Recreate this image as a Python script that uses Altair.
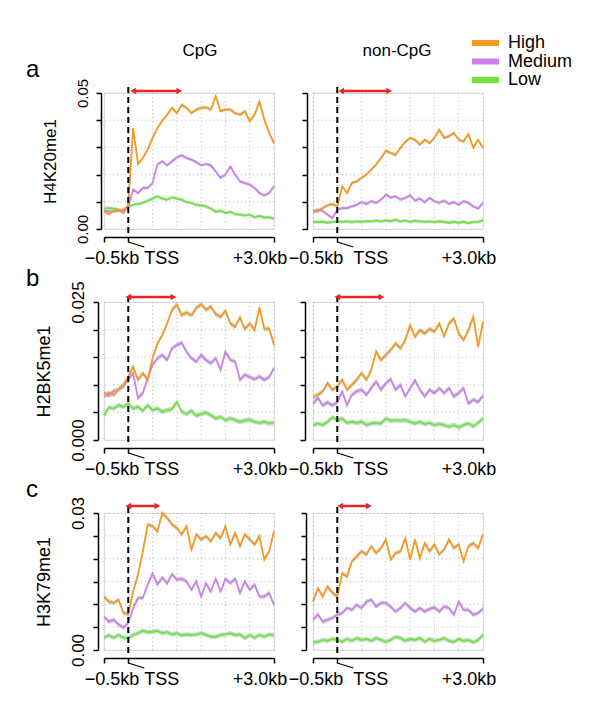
import altair as alt
import pandas as pd

positions = [-0.5, -0.4, -0.3, -0.2, -0.1, 0.0, 0.1, 0.2, 0.3, 0.4, 0.5, 0.6,
             0.7, 0.8, 0.9, 1.0, 1.1, 1.2, 1.3, 1.4, 1.5, 1.6, 1.7, 1.8,
             1.9, 2.0, 2.1, 2.2, 2.3, 2.4, 2.5, 2.6, 2.7, 2.8, 2.9, 3.0]

levels = ["High", "Medium", "Low"]
level_colors = ["#F7981F", "#D080EC", "#6DE83A"]
column_titles = ["CpG", "non-CpG"]
row_letters = ["a", "b", "c"]
row_marks = ["H4K20me1", "H2BK5me1", "H3K79me1"]
xtick_values = [-0.5, 0.0, 3.0]
xtick_labels = ["\u22120.5kb", "TSS", "+3.0kb"]
xgrid_values = [-0.5, 0.0, 0.5, 1.0, 1.5, 2.0, 2.5, 3.0]
yticks_a = [0.0, 0.01, 0.02, 0.03, 0.04, 0.05]
yticks_b = [0.0, 0.005, 0.01, 0.015, 0.02, 0.025]
yticks_c = [0.0, 0.005, 0.01, 0.015, 0.02, 0.025, 0.03]

# ---- row a : H4K20me1 ----
a_cpg_high = [0.0065, 0.0055, 0.0067, 0.0071, 0.0059, 0.0090, 0.0371, 0.0239, 0.0261, 0.0292, 0.0335, 0.0371,
              0.0398, 0.0420, 0.0445, 0.0426, 0.0457, 0.0445, 0.0426, 0.0439, 0.0445, 0.0447, 0.0439, 0.0488,
              0.0433, 0.0439, 0.0439, 0.0426, 0.0420, 0.0433, 0.0396, 0.0420, 0.0469, 0.0402, 0.0353, 0.0316]
a_cpg_med = [0.0067, 0.0065, 0.0065, 0.0067, 0.0071, 0.0083, 0.0145, 0.0132, 0.0151, 0.0151, 0.0169, 0.0237,
             0.0249, 0.0234, 0.0249, 0.0263, 0.0271, 0.0261, 0.0255, 0.0246, 0.0234, 0.0239, 0.0234, 0.0212,
             0.0188, 0.0200, 0.0230, 0.0200, 0.0175, 0.0169, 0.0163, 0.0151, 0.0132, 0.0124, 0.0132, 0.0157]
a_cpg_low = [0.0075, 0.0077, 0.0075, 0.0071, 0.0065, 0.0083, 0.0089, 0.0092, 0.0096, 0.0104, 0.0112, 0.0120,
             0.0112, 0.0108, 0.0116, 0.0112, 0.0108, 0.0099, 0.0096, 0.0089, 0.0087, 0.0083, 0.0075, 0.0063,
             0.0067, 0.0059, 0.0063, 0.0055, 0.0053, 0.0050, 0.0053, 0.0043, 0.0048, 0.0043, 0.0043, 0.0038]
a_non_high = [0.0063, 0.0065, 0.0077, 0.0087, 0.0092, 0.0083, 0.0157, 0.0132, 0.0169, 0.0175, 0.0188, 0.0200,
              0.0218, 0.0237, 0.0261, 0.0288, 0.0279, 0.0273, 0.0298, 0.0320, 0.0335, 0.0328, 0.0310, 0.0328,
              0.0316, 0.0335, 0.0365, 0.0335, 0.0341, 0.0353, 0.0328, 0.0322, 0.0349, 0.0298, 0.0328, 0.0298]
a_non_med = [0.0065, 0.0071, 0.0067, 0.0053, 0.0040, 0.0071, 0.0077, 0.0077, 0.0083, 0.0089, 0.0099, 0.0092,
             0.0102, 0.0096, 0.0108, 0.0126, 0.0116, 0.0120, 0.0108, 0.0114, 0.0124, 0.0104, 0.0112, 0.0099,
             0.0114, 0.0102, 0.0096, 0.0104, 0.0092, 0.0099, 0.0089, 0.0102, 0.0096, 0.0083, 0.0075, 0.0096]
a_non_low = [0.0026, 0.0025, 0.0026, 0.0023, 0.0026, 0.0028, 0.0026, 0.0028, 0.0025, 0.0028, 0.0026, 0.0029,
             0.0028, 0.0031, 0.0028, 0.0032, 0.0028, 0.0034, 0.0028, 0.0031, 0.0026, 0.0031, 0.0028, 0.0026,
             0.0028, 0.0025, 0.0028, 0.0026, 0.0023, 0.0026, 0.0023, 0.0026, 0.0022, 0.0025, 0.0026, 0.0032]

# ---- row b : H2BK5me1 ----
b_cpg_high = [0.0079, 0.0085, 0.0082, 0.0092, 0.0100, 0.0114, 0.0133, 0.0109, 0.0121, 0.0109, 0.0148, 0.0175,
              0.0190, 0.0211, 0.0236, 0.0245, 0.0226, 0.0231, 0.0226, 0.0239, 0.0246, 0.0236, 0.0242, 0.0228,
              0.0223, 0.0234, 0.0211, 0.0205, 0.0222, 0.0201, 0.0211, 0.0199, 0.0240, 0.0201, 0.0202, 0.0172]
b_cpg_med = [0.0086, 0.0080, 0.0089, 0.0091, 0.0097, 0.0110, 0.0121, 0.0076, 0.0085, 0.0112, 0.0136, 0.0148,
             0.0154, 0.0145, 0.0166, 0.0172, 0.0176, 0.0160, 0.0148, 0.0142, 0.0154, 0.0145, 0.0139, 0.0148,
             0.0127, 0.0160, 0.0145, 0.0142, 0.0109, 0.0118, 0.0114, 0.0110, 0.0115, 0.0109, 0.0114, 0.0130]
b_cpg_low = [0.0044, 0.0059, 0.0057, 0.0063, 0.0060, 0.0066, 0.0057, 0.0060, 0.0053, 0.0063, 0.0054, 0.0057,
             0.0051, 0.0054, 0.0056, 0.0069, 0.0051, 0.0047, 0.0053, 0.0044, 0.0047, 0.0050, 0.0045, 0.0039,
             0.0042, 0.0036, 0.0039, 0.0036, 0.0033, 0.0035, 0.0037, 0.0033, 0.0031, 0.0033, 0.0030, 0.0031]
b_non_high = [0.0077, 0.0082, 0.0088, 0.0103, 0.0091, 0.0097, 0.0109, 0.0091, 0.0100, 0.0109, 0.0121, 0.0109,
              0.0127, 0.0160, 0.0145, 0.0154, 0.0163, 0.0175, 0.0166, 0.0181, 0.0208, 0.0187, 0.0199, 0.0193,
              0.0201, 0.0196, 0.0211, 0.0188, 0.0211, 0.0220, 0.0193, 0.0181, 0.0199, 0.0223, 0.0169, 0.0214]
b_non_med = [0.0066, 0.0076, 0.0063, 0.0068, 0.0063, 0.0068, 0.0088, 0.0063, 0.0082, 0.0088, 0.0091, 0.0082,
             0.0094, 0.0106, 0.0091, 0.0103, 0.0110, 0.0091, 0.0100, 0.0079, 0.0094, 0.0108, 0.0091, 0.0079,
             0.0091, 0.0085, 0.0094, 0.0085, 0.0094, 0.0079, 0.0085, 0.0094, 0.0066, 0.0073, 0.0069, 0.0080]
b_non_low = [0.0027, 0.0030, 0.0027, 0.0033, 0.0041, 0.0036, 0.0039, 0.0031, 0.0033, 0.0031, 0.0033, 0.0027,
             0.0030, 0.0031, 0.0030, 0.0039, 0.0035, 0.0036, 0.0035, 0.0036, 0.0033, 0.0030, 0.0033, 0.0029,
             0.0031, 0.0027, 0.0029, 0.0027, 0.0024, 0.0027, 0.0023, 0.0027, 0.0030, 0.0025, 0.0031, 0.0039]

# ---- row c : H3K79me1 ----
c_cpg_high = [0.0117, 0.0106, 0.0103, 0.0110, 0.0081, 0.0078, 0.0128, 0.0165, 0.0216, 0.0275, 0.0271, 0.0260,
              0.0300, 0.0289, 0.0275, 0.0267, 0.0253, 0.0271, 0.0220, 0.0253, 0.0242, 0.0249, 0.0238, 0.0256,
              0.0245, 0.0271, 0.0231, 0.0256, 0.0227, 0.0253, 0.0242, 0.0231, 0.0249, 0.0198, 0.0216, 0.0260]
c_cpg_med = [0.0073, 0.0062, 0.0066, 0.0056, 0.0049, 0.0059, 0.0092, 0.0114, 0.0114, 0.0143, 0.0168, 0.0143,
             0.0159, 0.0146, 0.0166, 0.0154, 0.0156, 0.0150, 0.0132, 0.0150, 0.0117, 0.0146, 0.0128, 0.0156,
             0.0128, 0.0156, 0.0146, 0.0156, 0.0125, 0.0150, 0.0132, 0.0143, 0.0117, 0.0117, 0.0125, 0.0099]
c_cpg_low = [0.0027, 0.0032, 0.0027, 0.0033, 0.0027, 0.0026, 0.0033, 0.0037, 0.0042, 0.0039, 0.0040, 0.0042,
             0.0037, 0.0039, 0.0034, 0.0037, 0.0032, 0.0034, 0.0033, 0.0034, 0.0037, 0.0033, 0.0029, 0.0029,
             0.0033, 0.0034, 0.0037, 0.0033, 0.0034, 0.0026, 0.0033, 0.0027, 0.0033, 0.0029, 0.0034, 0.0032]
c_non_high = [0.0106, 0.0135, 0.0117, 0.0139, 0.0125, 0.0117, 0.0168, 0.0161, 0.0194, 0.0205, 0.0216, 0.0209,
              0.0227, 0.0212, 0.0223, 0.0242, 0.0198, 0.0212, 0.0216, 0.0245, 0.0198, 0.0242, 0.0201, 0.0234,
              0.0216, 0.0231, 0.0209, 0.0220, 0.0242, 0.0223, 0.0231, 0.0194, 0.0227, 0.0234, 0.0223, 0.0253]
c_non_med = [0.0066, 0.0078, 0.0062, 0.0066, 0.0070, 0.0077, 0.0081, 0.0092, 0.0088, 0.0099, 0.0092, 0.0106,
             0.0110, 0.0095, 0.0103, 0.0103, 0.0095, 0.0084, 0.0092, 0.0103, 0.0092, 0.0084, 0.0092, 0.0084,
             0.0090, 0.0093, 0.0084, 0.0095, 0.0092, 0.0077, 0.0106, 0.0088, 0.0088, 0.0077, 0.0081, 0.0090]
c_non_low = [0.0017, 0.0018, 0.0022, 0.0020, 0.0024, 0.0022, 0.0018, 0.0024, 0.0020, 0.0026, 0.0022, 0.0024,
             0.0020, 0.0026, 0.0022, 0.0018, 0.0022, 0.0029, 0.0026, 0.0020, 0.0024, 0.0022, 0.0026, 0.0018,
             0.0024, 0.0020, 0.0022, 0.0026, 0.0020, 0.0018, 0.0024, 0.0020, 0.0022, 0.0017, 0.0022, 0.0033]

# half-width of the grey confidence band, per row
band_half = [0.0006, 0.00045, 0.0005]
# red double arrows (start, end) in kb, per panel
arrows_cpg = [(0.10, 1.05), (0.0, 0.93), (0.0, 0.60)]
arrows_non = [(0.08, 1.07), (0.0, 0.91), (0.06, 0.65)]

FONT = "Liberation Sans"
W = 170
heights = [136, 138, 137]
ylabel_fmt = [".2f", ".3f", ".2f"]
ylabel_size = [15, 17, 17]
ytitle_size = [17, 18, 18]
arrow_y = [-2, -5, -7]
yaxis_offset = [[3, 6], [6, 8], [6, 7]]


def panel(row, col, high, med, low, yticks, arrow):
    H = heights[row]
    ytop = yticks[-1]
    xs = alt.Scale(domain=[-0.5, 3.0], nice=False, zero=False)
    ys = alt.Scale(domain=[yticks[0], ytop], nice=False, zero=False)
    xaxis = alt.Axis(values=xtick_values, labels=False, title=None, grid=False, offset=8,
                     tickSize=5, tickWidth=1.5, domainWidth=1.5, domainColor="black", tickColor="black")
    off = yaxis_offset[row][col]
    if col == 0:
        eps = ytop / 1000
        yaxis = alt.Axis(values=yticks, grid=False, offset=off, tickSize=5, tickWidth=1.5, domainWidth=1.5,
                         domainColor="black", tickColor="black",
                         labelExpr=f"datum.value < {eps} || datum.value > {ytop - eps} ? format(datum.value, '{ylabel_fmt[row]}') : ''",
                         labelAngle=270, labelAlign="center", labelBaseline="bottom", labelPadding=6,
                         labelFontSize=ylabel_size[row], labelOverlap=False, labelColor="black", labelFont=FONT,
                         title=row_marks[row], titleFontSize=ytitle_size[row], titleFontWeight="normal",
                         titleColor="black", titleFont=FONT, titlePadding=16)
    else:
        yaxis = alt.Axis(values=yticks, grid=False, offset=off, tickSize=5, tickWidth=1.5, domainWidth=1.5,
                         domainColor="black", tickColor="black", labels=False, title=None)

    def X(f):
        return alt.X(f"{f}:Q", scale=xs, axis=xaxis)

    def Y(f):
        return alt.Y(f"{f}:Q", scale=ys, axis=yaxis)

    rows = []
    for lvl, vals in zip(levels, [high, med, low]):
        for x, v in zip(positions, vals):
            rows.append({"x": x, "v": v, "lo": v - band_half[row], "hi": v + band_half[row], "level": lvl})
    df = pd.DataFrame(rows)

    layers = []
    gx = alt.Chart(pd.DataFrame({"g": xgrid_values})).mark_rule(
        stroke="#bdbdbd", strokeDash=[1, 3], strokeWidth=1).encode(x=X("g"))
    gy = alt.Chart(pd.DataFrame({"g": yticks})).mark_rule(
        stroke="#bdbdbd", strokeDash=[1, 3], strokeWidth=1).encode(y=Y("g"))
    layers += [gx, gy]

    band = alt.Chart(df).mark_area(color="#c5d0d2", opacity=0.85).encode(
        x=X("x"), y=Y("lo"), y2="hi", detail="level:N")
    layers.append(band)

    color = alt.Color("level:N", scale=alt.Scale(domain=levels, range=level_colors),
                      legend=alt.Legend(orient="none", legendX=365, legendY=-58, title=None,
                                        symbolType="stroke", symbolStrokeWidth=6, symbolSize=729,
                                        clipHeight=16, labelFontSize=18, labelFont=FONT, labelColor="black",
                                        labelOffset=6, rowPadding=0.5))
    for lvl in ["Low", "Medium", "High"]:
        layers.append(alt.Chart(df).transform_filter(alt.datum.level == lvl).mark_line(
            strokeWidth=1.8).encode(x=X("x"), y=Y("v"), color=color))

    tss = alt.Chart(pd.DataFrame({"t": [0.0]})).mark_rule(
        color="black", strokeDash=[6, 4], strokeWidth=2).encode(
        x=X("t"), y=alt.value(-6), y2=alt.value(H + 5))
    layers.append(tss)

    adf = pd.DataFrame({"s": [arrow[0]], "e": [arrow[1]]})
    layers.append(alt.Chart(adf).mark_rule(color="#E8262B", strokeWidth=2.5).encode(
        x=X("s"), x2="e", y=alt.value(arrow_y[row])))
    layers.append(alt.Chart(adf).mark_point(shape="triangle-left", filled=True, size=45, color="#E8262B",
                                            opacity=1).encode(x=X("s"), y=alt.value(arrow_y[row])))
    layers.append(alt.Chart(adf).mark_point(shape="triangle-right", filled=True, size=45, color="#E8262B",
                                            opacity=1).encode(x=X("e"), y=alt.value(arrow_y[row])))

    # TSS leader line under the axis
    ldf = pd.DataFrame({"a": [0.0], "b": [0.33]})
    layers.append(alt.Chart(ldf).mark_rule(color="black", strokeWidth=1.3).encode(
        x=X("a"), x2="b", y=alt.value(H + 13), y2=alt.value(H + 18)))

    # x tick labels
    left_dx = 8 if col == 0 else 3
    specs = [("center", left_dx), ("left", 16), ("center", -14)]
    for (v, lab), (al, dx) in zip(zip(xtick_values, xtick_labels), specs):
        layers.append(alt.Chart(pd.DataFrame({"xv": [v], "lab": [lab]})).mark_text(
            align=al, dx=dx, baseline="middle", fontSize=18, font=FONT, color="black").encode(
            x=X("xv"), y=alt.value(H + 30), text="lab:N"))

    if col == 0:
        layers.append(alt.Chart(pd.DataFrame({"t": [row_letters[row]]})).mark_text(
            align="left", baseline="alphabetic", fontSize=24, font=FONT, color="black").encode(
            x=alt.value(-78), y=alt.value(-16), text="t:N"))
    if row == 0:
        layers.append(alt.Chart(pd.DataFrame({"t": [column_titles[col]]})).mark_text(
            align="center", baseline="alphabetic", fontSize=17, font=FONT, color="black").encode(
            x=alt.value(96 if col == 0 else 84), y=alt.value(-37), text="t:N"))

    return alt.layer(*layers).properties(width=W, height=H)


data_rows = [
    (a_cpg_high, a_cpg_med, a_cpg_low, a_non_high, a_non_med, a_non_low, yticks_a),
    (b_cpg_high, b_cpg_med, b_cpg_low, b_non_high, b_non_med, b_non_low, yticks_b),
    (c_cpg_high, c_cpg_med, c_cpg_low, c_non_high, c_non_med, c_non_low, yticks_c),
]

panels = []
for r, (ch, cm, cl, nh, nm, nl, yt) in enumerate(data_rows):
    panels.append(panel(r, 0, ch, cm, cl, yt, arrows_cpg[r]))
    panels.append(panel(r, 1, nh, nm, nl, yt, arrows_non[r]))

chart = alt.concat(*panels, columns=2, spacing={"row": 73, "column": 39}, bounds="flush").resolve_scale(
    x="independent", y="independent", color="shared"
).properties(
    padding={"left": 17, "top": 27, "right": 5, "bottom": 5}
).configure_view(stroke=None).configure(font=FONT, background="white")

chart.save("out.html", embed_options={"renderer": "svg", "actions": False})
